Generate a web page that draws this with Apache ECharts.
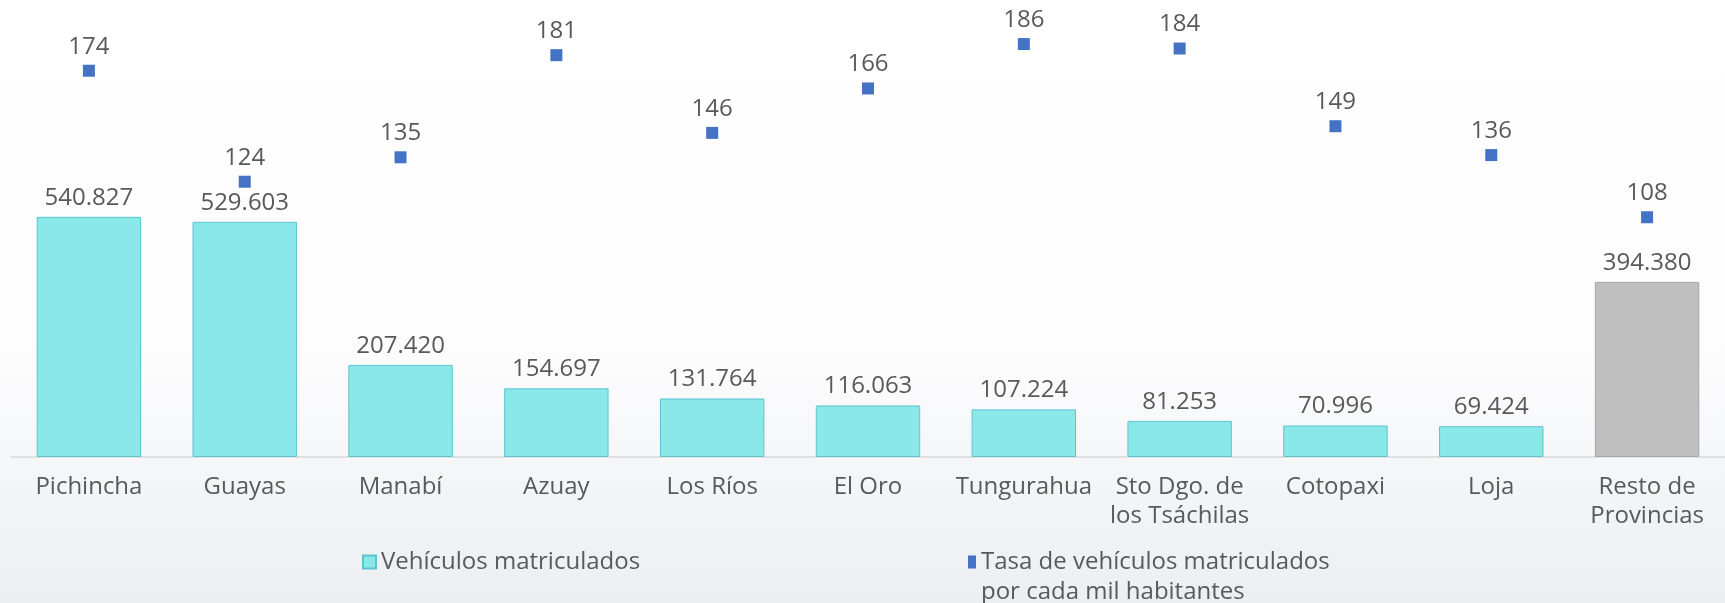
<!DOCTYPE html>
<html>
<head>
<meta charset="utf-8">
<title>Vehículos matriculados por provincia</title>
<script src="https://cdn.jsdelivr.net/npm/echarts@6/dist/echarts.min.js"></script>
<style>
  html, body { margin: 0; padding: 0; }
  #chart { width: 1725px; height: 603px; }
</style>
</head>
<body>
<div id="chart"></div>
<script>
// categorias (provincias)
const provincias = ['Pichincha', 'Guayas', 'Manabí', 'Azuay', 'Los Ríos', 'El Oro', 'Tungurahua',
  'Sto Dgo. de\nlos Tsáchilas', 'Cotopaxi', 'Loja', 'Resto de\nProvincias'];
// vehiculos matriculados
const vehiculos = [540827, 529603, 207420, 154697, 131764, 116063, 107224, 81253, 70996, 69424, 394380];
// tasa por cada mil habitantes
const tasa = [174, 124, 135, 181, 146, 166, 186, 184, 149, 136, 108];

const FONT = '"Open Sans", sans-serif';
const GRIS = '#595959';
const NOMBRE_TASA = 'Tasa de vehículos matriculados\npor cada mil habitantes';

// separador de miles con punto
function miles(v) {
  return String(v).replace(/\B(?=(\d{3})+(?!\d))/g, '.');
}

const chart = echarts.init(document.getElementById('chart'));

const barData = vehiculos.map((v, i) => {
  if (i === vehiculos.length - 1) {
    return { value: v, itemStyle: { color: '#BFBFBF', borderColor: '#A6A6A6' } };
  }
  return v;
});

const option = {
  backgroundColor: {
    type: 'linear', x: 0, y: 0, x2: 0, y2: 1,
    colorStops: [
      { offset: 0, color: '#ffffff' },
      { offset: 0.6, color: '#fcfcfd' },
      { offset: 1, color: '#eceef1' }
    ]
  },
  textStyle: { fontFamily: FONT },
  grid: { left: 11, right: 0, top: 13, bottom: 146 },
  legend: [
    {
      left: 357, top: 542,
      itemWidth: 13, itemHeight: 13,
      icon: 'rect',
      data: ['Vehículos matriculados'],
      textStyle: { fontFamily: FONT, fontSize: 24, color: GRIS, lineHeight: 30 }
    },
    {
      left: 963, top: 512,
      itemWidth: 8, itemHeight: 13,
      icon: 'rect',
      data: [NOMBRE_TASA],
      // linea vacia arriba para que el icono quede junto a la primera linea
      formatter: n => ' \n' + n,
      textStyle: { fontFamily: FONT, fontSize: 24, color: GRIS, lineHeight: 30 }
    }
  ],
  xAxis: {
    type: 'category',
    data: provincias,
    axisLine: { lineStyle: { color: '#D9D9D9', width: 1.5 } },
    axisTick: { show: false },
    axisLabel: {
      interval: 0, margin: 16,
      fontFamily: FONT, fontSize: 24, color: GRIS, lineHeight: 29
    }
  },
  yAxis: [
    { type: 'value', min: 0, max: 1000000, show: false, splitLine: { show: false } },
    { type: 'value', min: 0, max: 200, show: false, splitLine: { show: false } }
  ],
  series: [
    {
      name: 'Vehículos matriculados',
      type: 'bar',
      data: barData,
      barCategoryGap: '33%',
      itemStyle: { color: '#8AE8E8', borderColor: '#5CC4CF', borderWidth: 1 },
      label: {
        show: true, position: 'top', distance: 7,
        fontFamily: FONT, fontSize: 24, color: GRIS,
        formatter: p => miles(p.value)
      }
    },
    {
      name: NOMBRE_TASA,
      type: 'scatter',
      yAxisIndex: 1,
      data: tasa,
      symbol: 'rect',
      symbolSize: 12,
      itemStyle: { color: '#4472C4', opacity: 1 },
      label: {
        show: true, position: 'top', distance: 6,
        fontFamily: FONT, fontSize: 24, color: GRIS
      }
    }
  ]
};

chart.setOption(option);
</script>
</body>
</html>
